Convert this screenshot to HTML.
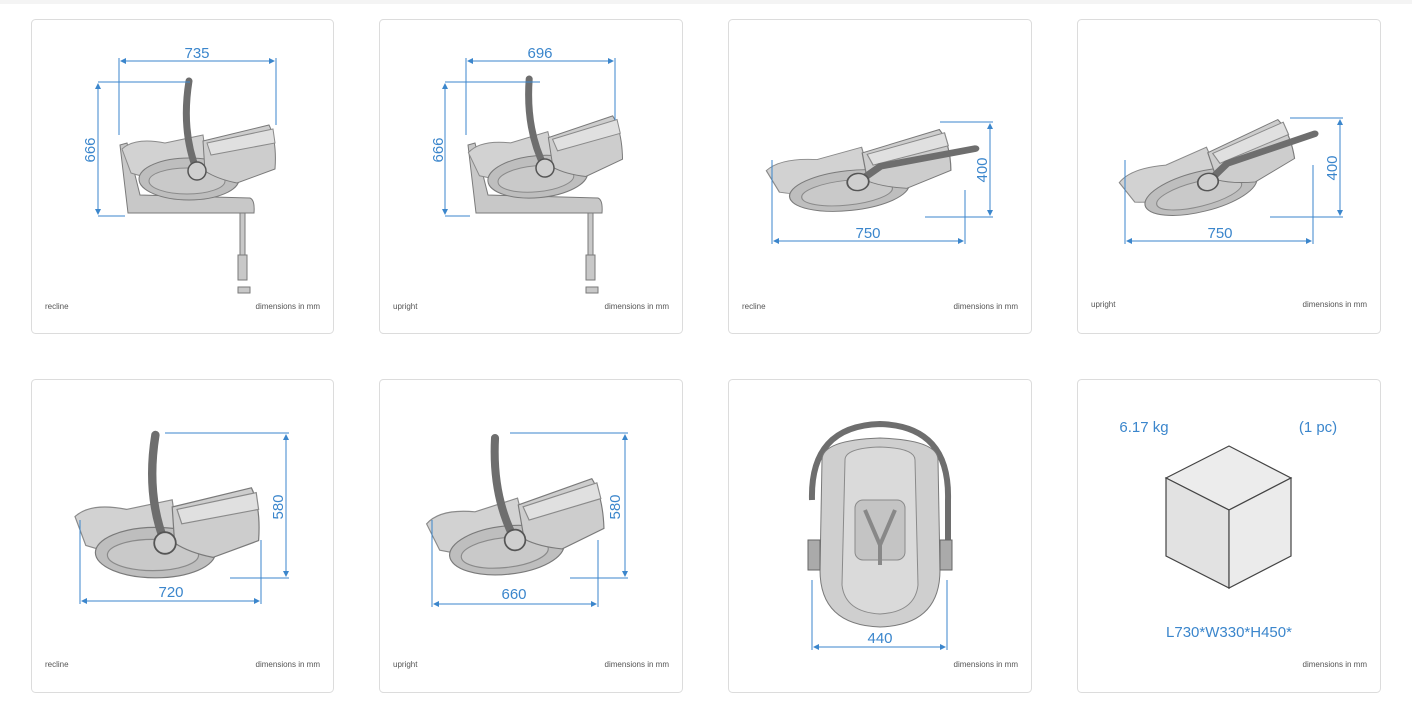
<!DOCTYPE html>
<html><head><meta charset="utf-8"><style>
html,body{margin:0;padding:0;background:#fff;width:1412px;height:712px;overflow:hidden}
svg{display:block}
text{font-family:"Liberation Sans",sans-serif}
.c{fill:#fff;stroke:#dcdcdc;stroke-width:1}
.d{stroke:#3b86cc;stroke-width:1;fill:none}
.n{fill:#3b86cc;font-size:15px;text-anchor:middle}
.s{fill:#555;font-size:8px}
.r{fill:#555;font-size:8px;text-anchor:end}
</style></head><body>
<svg width="1412" height="712" viewBox="0 0 1412 712">
<defs>
<g id="body">
  <path d="M-75,-22 Q-62,-34 -32,-28 L6,-36 L12,6 Q-30,14 -66,2 Z" fill="#d2d2d2" stroke="#8a8a8a"/>
  <ellipse cx="-8" cy="8" rx="50" ry="21" fill="#bebebe" stroke="#7a7a7a"/>
  <ellipse cx="-10" cy="10" rx="38" ry="13" fill="#c9c9c9" stroke="#8a8a8a"/>
  <path d="M6,-30 L72,-46 Q80,-30 78,-2 L40,12 Q20,8 8,0 Z" fill="#cdcdcd" stroke="#7a7a7a"/>
  <path d="M10,-28 L76,-42 L78,-28 L14,-16 Z" fill="#e0e0e0" stroke="#8a8a8a"/>
</g>
<g id="seat">
  <use href="#body"/>
  <path d="M-8,-90 Q-16,-40 0,0" stroke="#6e6e6e" stroke-width="7" fill="none" stroke-linecap="round"/>
  <circle cx="0" cy="0" r="9" fill="#cfcfcf" stroke="#555" stroke-width="1.5"/>
</g>
<g id="flat">
  <use href="#body"/>
  <path d="M0,0 L20,-14 L100,-22" stroke="#6e6e6e" stroke-width="7" fill="none" stroke-linecap="round"/>
  <circle cx="0" cy="0" r="9" fill="#cfcfcf" stroke="#555" stroke-width="1.5"/>
</g>
<marker id="a" markerWidth="6" markerHeight="6" refX="5" refY="3" orient="auto-start-reverse"><path d="M0,0 L6,3 L0,6 Z" fill="#3b86cc"/></marker>
</defs>
<rect x="0" y="0" width="1412" height="4" fill="#f4f4f4"/>
<rect class="c" x="31.5" y="19.5" width="302" height="314" rx="4"/>
<rect class="c" x="379.5" y="19.5" width="303" height="314" rx="4"/>
<rect class="c" x="728.5" y="19.5" width="303" height="314" rx="4"/>
<rect class="c" x="1077.5" y="19.5" width="303" height="314" rx="4"/>
<rect class="c" x="31.5" y="379.5" width="302" height="313" rx="4"/>
<rect class="c" x="379.5" y="379.5" width="303" height="313" rx="4"/>
<rect class="c" x="728.5" y="379.5" width="303" height="313" rx="4"/>
<rect class="c" x="1077.5" y="379.5" width="303" height="313" rx="4"/>

<g fill="#c8c8c8" stroke="#7a7a7a">
<path d="M120,145 L127,143 L140,195 L250,198 Q255,200 254,213 L128,213 Z"/>
<rect x="240" y="213" width="5" height="50"/><rect x="238" y="255" width="9" height="25"/><rect x="238" y="287" width="12" height="6"/>
<path d="M468,145 L475,143 L488,195 L598,198 Q603,200 602,213 L476,213 Z"/>
<rect x="588" y="213" width="5" height="50"/><rect x="586" y="255" width="9" height="25"/><rect x="586" y="287" width="12" height="6"/>
</g>
<use href="#seat" transform="translate(197,171)"/>
<use href="#seat" transform="translate(545,168) rotate(-5)"/>
<use href="#flat" transform="translate(858,182) rotate(-6) scale(1.2,0.95)"/>
<use href="#flat" transform="translate(1208,182) rotate(-14) scale(1.15,0.95)"/>
<use href="#seat" transform="translate(165,543) scale(1.2)"/>
<use href="#seat" transform="translate(515,540) rotate(-6) scale(1.15)"/>

<path class="d" d="M119,58 V135 M276,58 V125 M98,82 H190 M98,216 H125" />
<path class="d" d="M121,61 H274" marker-start="url(#a)" marker-end="url(#a)"/>
<path class="d" d="M98,84 V214" marker-start="url(#a)" marker-end="url(#a)"/>
<text class="n" x="197" y="58">735</text>
<text class="n" transform="translate(95,150) rotate(-90)">666</text>
<path class="d" d="M466,58 V135 M615,58 V120 M445,82 H540 M445,216 H470"/>
<path class="d" d="M468,61 H613" marker-start="url(#a)" marker-end="url(#a)"/>
<path class="d" d="M445,84 V214" marker-start="url(#a)" marker-end="url(#a)"/>
<text class="n" x="540" y="58">696</text>
<text class="n" transform="translate(443,150) rotate(-90)">666</text>
<path class="d" d="M772,160 V244 M965,190 V244 M940,122 H993 M925,217 H993"/>
<path class="d" d="M774,241 H963" marker-start="url(#a)" marker-end="url(#a)"/>
<path class="d" d="M990,124 V215" marker-start="url(#a)" marker-end="url(#a)"/>
<text class="n" x="868" y="238">750</text>
<text class="n" transform="translate(987,170) rotate(-90)">400</text>
<path class="d" d="M1125,160 V244 M1313,165 V244 M1290,118 H1343 M1270,217 H1343"/>
<path class="d" d="M1127,241 H1311" marker-start="url(#a)" marker-end="url(#a)"/>
<path class="d" d="M1340,120 V215" marker-start="url(#a)" marker-end="url(#a)"/>
<text class="n" x="1220" y="238">750</text>
<text class="n" transform="translate(1337,168) rotate(-90)">400</text>
<path class="d" d="M80,520 V604 M261,540 V604 M165,433 H289 M230,578 H289"/>
<path class="d" d="M82,601 H259" marker-start="url(#a)" marker-end="url(#a)"/>
<path class="d" d="M286,435 V576" marker-start="url(#a)" marker-end="url(#a)"/>
<text class="n" x="171" y="597">720</text>
<text class="n" transform="translate(283,507) rotate(-90)">580</text>
<path class="d" d="M432,520 V607 M598,540 V607 M510,433 H628 M570,578 H628"/>
<path class="d" d="M434,604 H596" marker-start="url(#a)" marker-end="url(#a)"/>
<path class="d" d="M625,435 V576" marker-start="url(#a)" marker-end="url(#a)"/>
<text class="n" x="514" y="599">660</text>
<text class="n" transform="translate(620,507) rotate(-90)">580</text>
<path d="M812,500 Q810,426 880,424 Q950,426 948,500 V560" fill="none" stroke="#6e6e6e" stroke-width="6"/>
<path d="M822,460 Q822,440 880,438 Q938,440 938,460 L940,570 Q940,625 880,627 Q820,625 820,570 Z" fill="#cfcfcf" stroke="#7a7a7a"/>
<path d="M845,460 Q845,448 880,447 Q915,448 915,460 L918,585 Q915,612 880,614 Q845,612 842,585 Z" fill="#dadada" stroke="#8a8a8a"/>
<rect x="855" y="500" width="50" height="60" rx="8" fill="#c4c4c4" stroke="#8a8a8a"/>
<path d="M865,510 L880,545 L895,510 M880,545 V565" stroke="#888" stroke-width="4" fill="none"/>
<rect x="808" y="540" width="12" height="30" fill="#aaa" stroke="#666"/><rect x="940" y="540" width="12" height="30" fill="#aaa" stroke="#666"/>
<path class="d" d="M812,580 V650 M947,580 V650"/>
<path class="d" d="M814,647 H945" marker-start="url(#a)" marker-end="url(#a)"/>
<text class="n" x="880" y="643">440</text>
<text class="n" x="1144" y="432">6.17 kg</text>
<text class="n" x="1318" y="432">(1 pc)</text>
<path d="M1166,478 L1229,446 L1291,478 L1229,510 Z" fill="#ececec" stroke="#444" stroke-width="1.2"/>
<path d="M1166,478 L1229,510 L1229,588 L1166,556 Z" fill="#e2e2e2" stroke="#444" stroke-width="1.2"/>
<path d="M1229,510 L1291,478 L1291,556 L1229,588 Z" fill="#ebebeb" stroke="#444" stroke-width="1.2"/>
<text class="n" x="1229" y="637">L730*W330*H450*</text>

<text class="s" x="45" y="309">recline</text><text class="r" x="320" y="309">dimensions in mm</text>
<text class="s" x="393" y="309">upright</text><text class="r" x="669" y="309">dimensions in mm</text>
<text class="s" x="742" y="309">recline</text><text class="r" x="1018" y="309">dimensions in mm</text>
<text class="s" x="1091" y="307">upright</text><text class="r" x="1367" y="307">dimensions in mm</text>
<text class="s" x="45" y="667">recline</text><text class="r" x="320" y="667">dimensions in mm</text>
<text class="s" x="393" y="667">upright</text><text class="r" x="669" y="667">dimensions in mm</text>
<text class="r" x="1018" y="667">dimensions in mm</text>
<text class="r" x="1367" y="667">dimensions in mm</text>
</svg>
</body></html>
